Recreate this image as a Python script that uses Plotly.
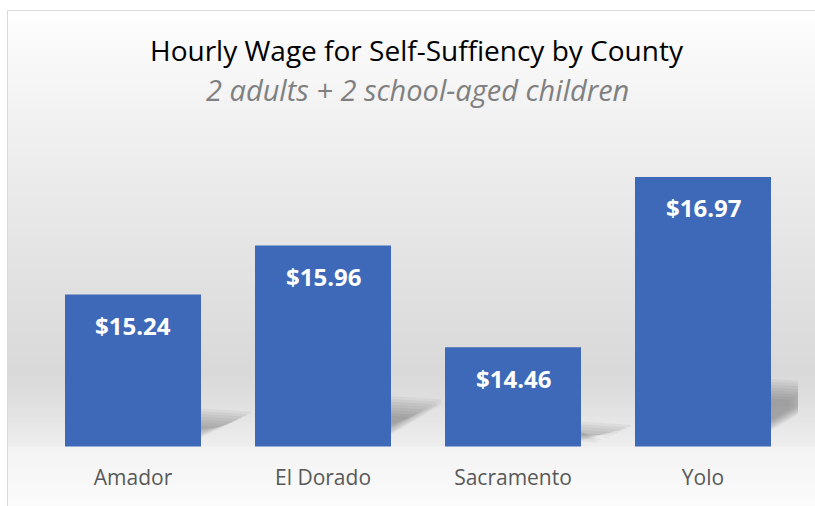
import plotly.graph_objects as go

# data
counties = ["Amador", "El Dorado", "Sacramento", "Yolo"]
wages = [15.24, 15.96, 14.46, 16.97]
wage_labels = ["$15.24", "$15.96", "$14.46", "$16.97"]

TITLE = "Hourly Wage for Self-Suffiency by County"
SUBTITLE = "2 adults + 2 school-aged children"

W, H = 815, 506
FONT = "'Open Sans', Arial, sans-serif"
BAR_BLUE = "#3d69b8"
Y_MIN, Y_MAX = 13, 18

# pixel layout (margins are zero so paper coords == pixels / size)
PLOT_X0, PLOT_X1 = 38, 798
PLOT_TOP, PLOT_BASE = 107, 446.5
BORDER_X, BORDER_Y = 7.5, 10.5
PX_PER_CAT = (PLOT_X1 - PLOT_X0) / len(counties)
PX_PER_UNIT = (PLOT_BASE - PLOT_TOP) / (Y_MAX - Y_MIN)


def px_x(x):
    return x / W


def px_y(y):
    return (H - y) / H


def grey(level):
    v = int(round(level))
    return f"rgb({v},{v},{v})"


def lerp(a, b, t):
    return a + (b - a) * t


def bg_level(y):
    # white at the top, darkest around y=370, lighter toward the baseline
    if y <= 370:
        t = (y - BORDER_Y) / (370 - BORDER_Y)
        return lerp(255, 217, t ** 0.85)
    if y <= PLOT_BASE:
        t = (y - 370) / (PLOT_BASE - 370)
        return lerp(217, 238, t ** 1.3)
    t = (y - PLOT_BASE) / (H - PLOT_BASE)
    return lerp(243, 251, t)


fig = go.Figure()
fig.add_trace(go.Bar(
    x=counties, y=wages, width=136 / PX_PER_CAT,
    marker=dict(color=BAR_BLUE, line_width=0),
    hoverinfo="x+y",
))

# value labels inside bar ends
for c, v, lab in zip(counties, wages, wage_labels):
    fig.add_annotation(x=c, y=v, text=f"<b>{lab}</b>", showarrow=False,
                       yanchor="middle", yshift=-31,
                       font=dict(family=FONT, size=24, color="white"))

shapes = []
# background gradient strips
step = 4
y = BORDER_Y
while y < H + 2:
    y2 = min(y + step, H + 2)
    shapes.append(dict(type="rect", xref="paper", yref="paper", layer="below",
                       x0=px_x(BORDER_X), x1=1.01,
                       y0=px_y(y2 + 0.5), y1=px_y(y),
                       fillcolor=grey(bg_level((y + y2) / 2)), line_width=0))
    y = y2

# soft shadows cast up and to the right of each bar
half = 136 / PX_PER_CAT / 2
wpx = 50
for i, v in enumerate(wages):
    bar_px = (v - Y_MIN) * PX_PER_UNIT
    top = 0.25 * bar_px
    low = 0.06 * bar_px
    xr = i + half
    for k in range(8):
        ins = k * 2.8
        w = (wpx - ins * 1.6) / PX_PER_CAT
        t_top = (top - ins) / PX_PER_UNIT
        t_low = (low + ins * 0.5) / PX_PER_UNIT
        rise = 0.6 * (wpx - ins * 1.6) / PX_PER_UNIT
        path = (f"M {xr},{Y_MIN + t_low} L {xr},{Y_MIN + t_top} "
                f"L {xr + w},{Y_MIN + t_top - 0.1 * rise} "
                f"L {xr + w},{Y_MIN + min(t_low + rise, t_top - 0.15 * rise)} Z")
        shapes.append(dict(type="path", xref="x", yref="y", layer="below",
                           path=path, fillcolor="rgba(80,80,80,0.07)", line_width=0))

# outer chart border (top and left are visible)
shapes.append(dict(type="line", xref="paper", yref="paper",
                   x0=px_x(BORDER_X), x1=1.01, y0=px_y(BORDER_Y), y1=px_y(BORDER_Y),
                   line=dict(color="#d9d9d9", width=1)))
shapes.append(dict(type="line", xref="paper", yref="paper",
                   x0=px_x(BORDER_X), x1=px_x(BORDER_X), y0=px_y(BORDER_Y), y1=-0.01,
                   line=dict(color="#d9d9d9", width=1)))

fig.add_annotation(xref="paper", yref="paper", x=px_x(417), y=px_y(50),
                   text=TITLE, showarrow=False, yanchor="middle",
                   font=dict(family=FONT, size=28, color="black"))
fig.add_annotation(xref="paper", yref="paper", x=px_x(417), y=px_y(90),
                   text=f"<i>{SUBTITLE}</i>", showarrow=False, yanchor="middle",
                   font=dict(family=FONT, size=29, color="#808080"))

fig.update_layout(
    width=W, height=H,
    margin=dict(l=0, r=0, t=0, b=0),
    paper_bgcolor="white",
    plot_bgcolor="rgba(0,0,0,0)",
    showlegend=False,
    shapes=shapes,
    font=dict(family=FONT),
    xaxis=dict(domain=[px_x(PLOT_X0), px_x(PLOT_X1)], range=[-0.5, len(counties) - 0.5],
               showgrid=False, showline=False, ticks="", zeroline=False,
               tickfont=dict(family=FONT, size=21, color="#595959"),
               ticklabelstandoff=16),
    yaxis=dict(domain=[px_y(PLOT_BASE), px_y(PLOT_TOP)], range=[Y_MIN, Y_MAX],
               visible=False, showgrid=False, zeroline=False),
)

fig.write_html("out.html", config={"displayModeBar": False},
               post_script="document.body.style.margin='0';")
